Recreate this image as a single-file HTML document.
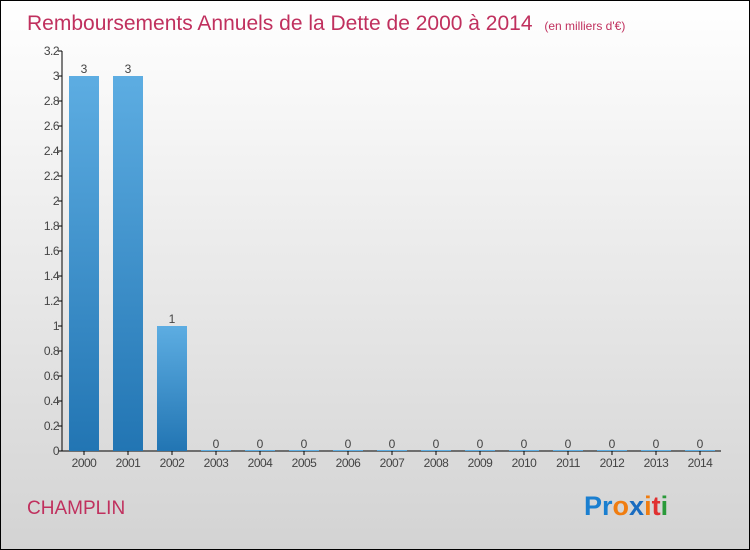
<!DOCTYPE html>
<html><head><meta charset="utf-8"><style>
body{margin:0}
#c{width:750px;height:550px;position:relative;overflow:hidden;box-sizing:border-box;border:1px solid #000;background:linear-gradient(#ffffff,#d3d3d3);font-family:"Liberation Sans",sans-serif}
</style></head><body>
<div id="c">
<svg id="s" width="750" height="550" style="position:absolute;left:0;top:0">
<defs><linearGradient id="bg" x1="0" y1="0" x2="0" y2="1"><stop offset="0" stop-color="#5dade2"/><stop offset="1" stop-color="#2275b3"/></linearGradient></defs>
<text x="26" y="29" font-size="21" fill="#c0305e">Remboursements Annuels de la Dette de 2000 à 2014 <tspan font-size="12" dx="6">(en milliers d'€)</tspan></text>
<text x="26" y="513" font-size="19" fill="#c0305e">CHAMPLIN</text>
<g font-size="27" font-weight="bold">
<text x="583" y="514"><tspan fill="#1a7fd0">Pr</tspan><tspan fill="#f07d10">o</tspan><tspan fill="#1a6cc0">x</tspan><tspan fill="#f07d10">i</tspan><tspan fill="#e03030">t</tspan><tspan fill="#2a9a3a">i</tspan></text>
</g>
</svg>
</div>
<script>
const categories=["2000","2001","2002","2003","2004","2005","2006","2007","2008","2009","2010","2011","2012","2013","2014"];
const values=[3,3,1,0,0,0,0,0,0,0,0,0,0,0,0];
const yTicks=[0,0.2,0.4,0.6,0.8,1,1.2,1.4,1.6,1.8,2,2.2,2.4,2.6,2.8,3,3.2];
const NS="http://www.w3.org/2000/svg";
const s=document.getElementById('s');
const y0=450,ppu=125,x0=61,step=44,first=83,bw=30;
const Y=v=>y0-v*ppu, X=i=>first+i*step;
function el(t,a,txt){const e=document.createElementNS(NS,t);for(const k in a)e.setAttribute(k,a[k]);if(txt!==undefined)e.textContent=txt;s.appendChild(e);return e;}
let e=el('line',{x1:x0,y1:Y(3.2),x2:x0,y2:y0,stroke:'#000'});


e=el('line',{x1:x0,y1:y0,x2:720,y2:y0,stroke:'#000'});


yTicks.forEach(v=>{
  const t=el('line',{x1:x0-4,y1:Y(v),x2:x0,y2:Y(v),stroke:'#000'});
  
  
  const l=el('text',{x:x0-3,y:Y(v)+4,'font-size':12,fill:'#444','text-anchor':'end','letter-spacing':'-0.5'},String(v));
  
  
});
categories.forEach((c,i)=>{
  const cx=X(i),v=values[i];
  const t=el('line',{x1:cx,y1:y0,x2:cx,y2:y0+4,stroke:'#000'});
  
  
  const l=el('text',{x:cx,y:y0+16,'font-size':12,fill:'#444','text-anchor':'middle','letter-spacing':'-0.5'},c);
  
  
  const h=Math.max(v*ppu,1);
  const b=el('rect',{x:cx-bw/2,y:y0-h,width:bw,height:h,fill:v>0?'url(#bg)':'#5dade2'});
  
  
  const vl=el('text',{x:cx,y:Y(v)-3,'font-size':12,fill:'#444','text-anchor':'middle'},String(v));
  
  
});
</script>
</body></html>
